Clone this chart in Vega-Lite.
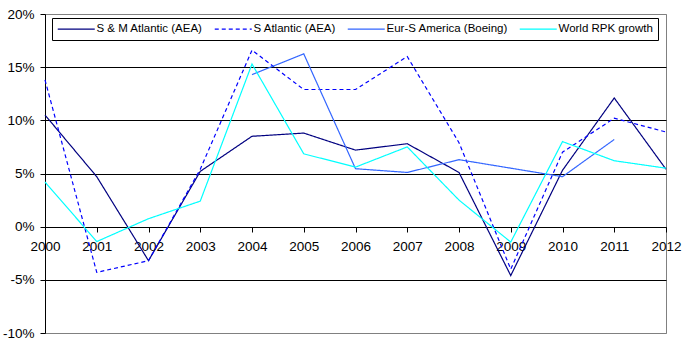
{
  "$schema": "https://vega.github.io/schema/vega-lite/v6.json",
  "autosize": {"type": "none"},
  "width": 621,
  "height": 319,
  "padding": {"left": 45, "top": 14, "right": 16, "bottom": 15},
  "background": "white",
  "config": {
    "view": {"stroke": "#808080", "strokeWidth": 1},
    "font": "Liberation Sans",
    "legend": {
      "title": null,
      "orient": "none",
      "legendX": 7,
      "legendY": 4,
      "direction": "horizontal",
      "symbolType": "M-5,0H32",
      "symbolSize": 4,
      "symbolStrokeWidth": 1.2,
      "symbolFillColor": "transparent",
      "labelFontSize": 11.5,
      "labelColor": "black",
      "labelOffset": 28,
      "columnPadding": 9,
      "padding": 5,
      "strokeColor": "black",
      "fillColor": "white"
    }
  },
  "data": {
    "values": [
      {"series": "S & M Atlantic (AEA)", "year": 2000, "value": 10.5},
      {"series": "S & M Atlantic (AEA)", "year": 2001, "value": 4.7},
      {"series": "S & M Atlantic (AEA)", "year": 2002, "value": -3.2},
      {"series": "S & M Atlantic (AEA)", "year": 2003, "value": 5.2},
      {"series": "S & M Atlantic (AEA)", "year": 2004, "value": 8.5},
      {"series": "S & M Atlantic (AEA)", "year": 2005, "value": 8.8},
      {"series": "S & M Atlantic (AEA)", "year": 2006, "value": 7.2},
      {"series": "S & M Atlantic (AEA)", "year": 2007, "value": 7.8},
      {"series": "S & M Atlantic (AEA)", "year": 2008, "value": 5.1},
      {"series": "S & M Atlantic (AEA)", "year": 2009, "value": -4.6},
      {"series": "S & M Atlantic (AEA)", "year": 2010, "value": 5.3},
      {"series": "S & M Atlantic (AEA)", "year": 2011, "value": 12.1},
      {"series": "S & M Atlantic (AEA)", "year": 2012, "value": 5.4},
      {"series": "S Atlantic (AEA)", "year": 2000, "value": 13.8},
      {"series": "S Atlantic (AEA)", "year": 2001, "value": -4.3},
      {"series": "S Atlantic (AEA)", "year": 2002, "value": -3.2},
      {"series": "S Atlantic (AEA)", "year": 2003, "value": 5.4},
      {"series": "S Atlantic (AEA)", "year": 2004, "value": 16.6},
      {"series": "S Atlantic (AEA)", "year": 2005, "value": 12.9},
      {"series": "S Atlantic (AEA)", "year": 2006, "value": 12.9},
      {"series": "S Atlantic (AEA)", "year": 2007, "value": 16.0},
      {"series": "S Atlantic (AEA)", "year": 2008, "value": 7.9},
      {"series": "S Atlantic (AEA)", "year": 2009, "value": -4.0},
      {"series": "S Atlantic (AEA)", "year": 2010, "value": 7.0},
      {"series": "S Atlantic (AEA)", "year": 2011, "value": 10.2},
      {"series": "S Atlantic (AEA)", "year": 2012, "value": 8.9},
      {"series": "Eur-S America (Boeing)", "year": 2004, "value": 14.3},
      {"series": "Eur-S America (Boeing)", "year": 2005, "value": 16.25},
      {"series": "Eur-S America (Boeing)", "year": 2006, "value": 5.45},
      {"series": "Eur-S America (Boeing)", "year": 2007, "value": 5.1},
      {"series": "Eur-S America (Boeing)", "year": 2008, "value": 6.3},
      {"series": "Eur-S America (Boeing)", "year": 2009, "value": 5.5},
      {"series": "Eur-S America (Boeing)", "year": 2010, "value": 4.7},
      {"series": "Eur-S America (Boeing)", "year": 2011, "value": 8.2},
      {"series": "World RPK growth", "year": 2000, "value": 4.2},
      {"series": "World RPK growth", "year": 2001, "value": -1.4},
      {"series": "World RPK growth", "year": 2002, "value": 0.75},
      {"series": "World RPK growth", "year": 2003, "value": 2.4},
      {"series": "World RPK growth", "year": 2004, "value": 15.3},
      {"series": "World RPK growth", "year": 2005, "value": 6.85},
      {"series": "World RPK growth", "year": 2006, "value": 5.6},
      {"series": "World RPK growth", "year": 2007, "value": 7.5},
      {"series": "World RPK growth", "year": 2008, "value": 2.5},
      {"series": "World RPK growth", "year": 2009, "value": -1.45},
      {"series": "World RPK growth", "year": 2010, "value": 8.0},
      {"series": "World RPK growth", "year": 2011, "value": 6.2},
      {"series": "World RPK growth", "year": 2012, "value": 5.5}
    ]
  },
  "mark": {"type": "line", "strokeWidth": 1.2, "clip": false},
  "encoding": {
    "x": {
      "field": "year",
      "type": "quantitative",
      "scale": {"domain": [2000, 2012], "nice": false, "zero": false},
      "axis": {
        "title": null,
        "values": [2000, 2001, 2002, 2003, 2004, 2005, 2006, 2007, 2008, 2009, 2010, 2011, 2012],
        "format": "d",
        "grid": false,
        "offset": -106,
        "domainColor": "black",
        "tickColor": "black",
        "tickSize": 5,
        "labelColor": "black",
        "labelFontSize": 13.5,
        "labelPadding": 7,
        "labelFlush": false,
        "labelOverlap": false
      }
    },
    "y": {
      "field": "value",
      "type": "quantitative",
      "scale": {"domain": [-10, 20], "nice": false},
      "axis": {
        "title": null,
        "values": [-10, -5, 0, 5, 10, 15, 20],
        "labelExpr": "datum.value + '%'",
        "grid": true,
        "gridColor": {"condition": {"test": "datum.value <= -10 || datum.value >= 20", "value": "#808080"}, "value": "black"},
        "gridOpacity": 1,
        "domainColor": "black",
        "tickColor": "black",
        "tickSize": 5,
        "labelColor": "black",
        "labelFontSize": 13.5,
        "labelPadding": 6
      }
    },
    "color": {
      "field": "series",
      "type": "nominal",
      "scale": {
        "domain": ["S & M Atlantic (AEA)", "S Atlantic (AEA)", "Eur-S America (Boeing)", "World RPK growth"],
        "range": ["#000080", "#0000FF", "#3366FF", "#00FFFF"]
      }
    },
    "strokeDash": {
      "field": "series",
      "type": "nominal",
      "scale": {
        "domain": ["S & M Atlantic (AEA)", "S Atlantic (AEA)", "Eur-S America (Boeing)", "World RPK growth"],
        "range": [[1, 0], [4, 3], [1, 0], [1, 0]]
      }
    }
  }
}
